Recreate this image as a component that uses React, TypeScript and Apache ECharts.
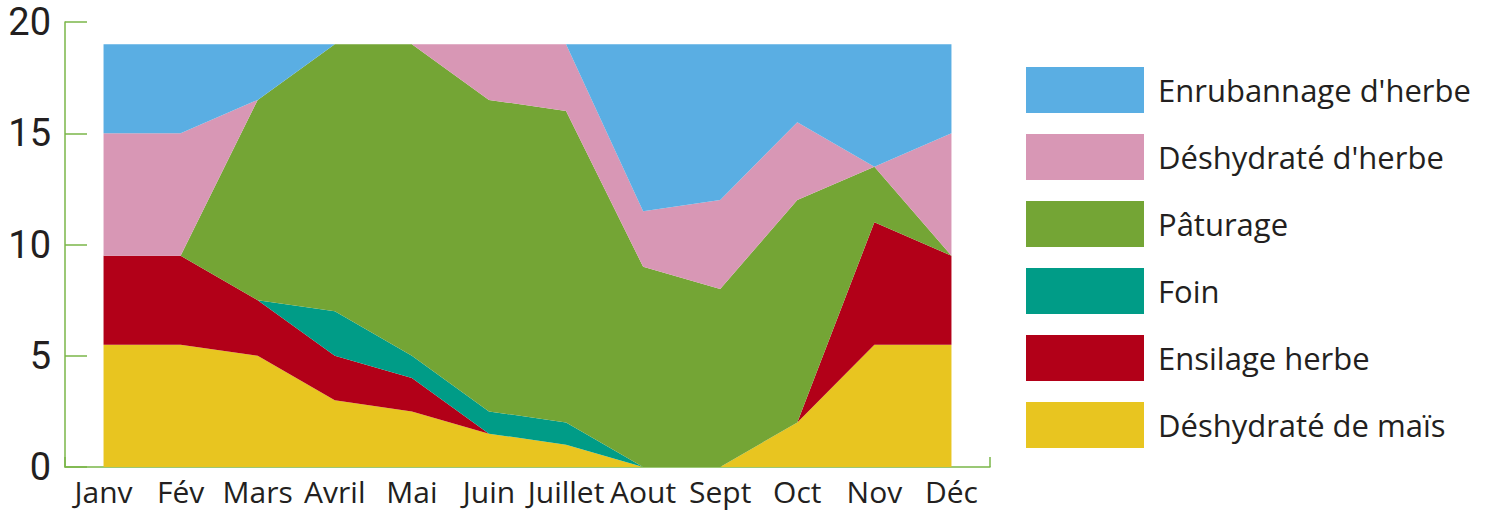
import React, { useEffect, useRef } from "react";
import * as echarts from "echarts";

const months = ["Janv", "Fév", "Mars", "Avril", "Mai", "Juin", "Juillet", "Aout", "Sept", "Oct", "Nov", "Déc"];
const yTicks = { min: 0, max: 20, interval: 5 };

const mais = [5.5, 5.5, 5, 3, 2.5, 1.5, 1, 0, 0, 2, 5.5, 5.5];
const ensilage = [4, 4, 2.5, 2, 1.5, 0, 0, 0, 0, 0, 5.5, 4];
const foin = [0, 0, 0, 2, 1, 1, 1, 0, 0, 0, 0, 0];
const paturage = [0, 0, 9, 12, 14, 14, 14, 9, 8, 10, 2.5, 0];
const deshHerbe = [5.5, 5.5, 0, 0, 0, 2.5, 3, 2.5, 4, 3.5, 0, 5.5];
const enrubannage = [4, 4, 2.5, 0, 0, 0, 0, 7.5, 7, 3.5, 5.5, 4];

const seriesDefs = [
  { name: "Déshydraté de maïs", data: mais, color: "#e8c520" },
  { name: "Ensilage herbe", data: ensilage, color: "#b20018" },
  { name: "Foin", data: foin, color: "#009c87" },
  { name: "Pâturage", data: paturage, color: "#74a535" },
  { name: "Déshydraté d'herbe", data: deshHerbe, color: "#d897b5" },
  { name: "Enrubannage d'herbe", data: enrubannage, color: "#5aaee3" },
];

const FONT = "'Open Sans', sans-serif";
const TEXT = "#231f20";
const AXIS = "#7ab648";

export default function App() {
  const ref = useRef<HTMLDivElement>(null);
  useEffect(() => {
    if (!ref.current) return;
    const chart = echarts.init(ref.current, undefined, { renderer: "svg" });
    chart.setOption({
      animation: false,
      grid: { left: 65, right: 514, top: 20, bottom: 46, containLabel: false },
      legend: {
        orient: "vertical",
        left: 1026,
        top: 67,
        padding: 0,
        itemWidth: 118,
        itemHeight: 46,
        itemGap: 21,
        icon: "rect",
        data: seriesDefs.map((s) => s.name).reverse(),
        textStyle: { fontSize: 31, color: TEXT, fontFamily: FONT, padding: [3, 0, 0, 9] },
      },
      xAxis: {
        type: "category",
        data: months,
        boundaryGap: true,
        axisLine: { lineStyle: { color: AXIS, width: 1.5 } },
        axisTick: { show: true, inside: true, length: 10, interval: (i: number) => i === 0, lineStyle: { color: AXIS, width: 1.5 } },
        axisLabel: { fontSize: 30, color: TEXT, fontFamily: FONT, margin: 9, interval: 0 },
      },
      yAxis: {
        type: "value",
        min: yTicks.min,
        max: yTicks.max,
        interval: yTicks.interval,
        axisLine: { show: true, lineStyle: { color: AXIS, width: 1.5 } },
        axisTick: { show: true, inside: true, length: 22, lineStyle: { color: AXIS, width: 1.5 } },
        splitLine: { show: false },
        axisLabel: { fontSize: 38, color: TEXT, fontFamily: "Roboto, sans-serif", margin: 14, lineHeight: 38, verticalAlign: "middle", padding: [6, 0, 0, 0] },
      },
      series: seriesDefs.map((s) => ({
        name: s.name,
        type: "line",
        stack: "total",
        data: s.data,
        color: s.color,
        symbol: "none",
        lineStyle: { width: 0 },
        areaStyle: { color: s.color, opacity: 1 },
      })),
    });
    return () => chart.dispose();
  }, []);
  return <div ref={ref} style={{ width: 1504, height: 513, position: "absolute", left: 0, top: 0 }} />;
}
